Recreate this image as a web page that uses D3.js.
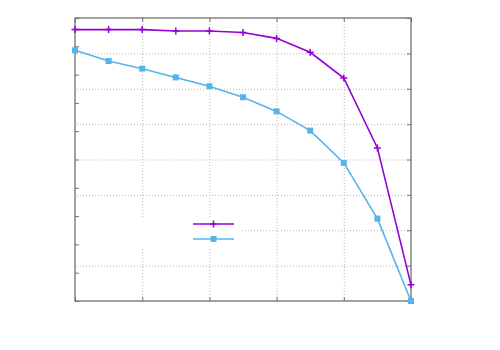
<!DOCTYPE html>
<html>
<head>
<meta charset="utf-8">
<script src="https://cdn.jsdelivr.net/npm/d3@7"></script>
<style>
body { margin: 0; background: #fff; }
.grid line { stroke: #b8b8b8; stroke-dasharray: 1,2; }
.ax path { display: none; }
.ax line { stroke: #707070; }
</style>
</head>
<body>
<div id="chart"></div>
<script>
// x positions of the samples
const steps = [0, 1, 2, 3, 4, 5, 6, 7, 8, 9, 10];
// the two series (left axis, 0..1)
const seriesA = [0.959, 0.959, 0.959, 0.954, 0.954, 0.949, 0.928, 0.879, 0.788, 0.541, 0.057];
const seriesB = [0.886, 0.848, 0.821, 0.790, 0.759, 0.720, 0.670, 0.602, 0.488, 0.291, 0.0];
const xTicks = [0, 2, 4, 6, 8, 10];
const yTicks = [0, 0.1, 0.2, 0.3, 0.4, 0.5, 0.6, 0.7, 0.8, 0.9, 1];
const y2Ticks = [0, 1, 2, 3, 4, 5, 6, 7, 8];

const width = 500, height = 350;
const plot = { left: 75, right: 411, top: 18, bottom: 301 };

const svg = d3.select('#chart').append('svg')
    .attr('width', width)
    .attr('height', height);

const x = d3.scaleLinear().domain([0, 10]).range([plot.left, plot.right]);
const y = d3.scaleLinear().domain([0, 1]).range([plot.bottom, plot.top]);
const y2 = d3.scaleLinear().domain([0, 8]).range([plot.bottom, plot.top]);

// grid: vertical from x ticks, horizontal from y2 ticks
svg.append('g')
    .attr('class', 'grid')
    .attr('transform', `translate(0, ${plot.bottom})`)
    .call(d3.axisBottom(x).tickValues(xTicks.slice(1, -1)).tickSize(-(plot.bottom - plot.top)).tickFormat(''))
    .select('.domain').remove();

svg.append('g')
    .attr('class', 'grid')
    .attr('transform', `translate(${plot.right}, 0)`)
    .call(d3.axisRight(y2).tickValues(y2Ticks.slice(1, -1)).tickSize(-(plot.right - plot.left)).tickFormat(''))
    .select('.domain').remove();

// key background hides the grid behind it
svg.append('rect')
    .attr('x', 77).attr('y', 217)
    .attr('width', 165).attr('height', 30)
    .attr('fill', '#fff');

// tick marks, pointing inward
svg.append('g').attr('class', 'ax')
    .attr('transform', `translate(${plot.left}, 0)`)
    .call(d3.axisLeft(y).tickValues(yTicks).tickSize(-4).tickFormat(''));
svg.append('g').attr('class', 'ax')
    .attr('transform', `translate(${plot.right}, 0)`)
    .call(d3.axisRight(y2).tickValues(y2Ticks).tickSize(-4).tickFormat(''));
svg.append('g').attr('class', 'ax')
    .attr('transform', `translate(0, ${plot.bottom})`)
    .call(d3.axisBottom(x).tickValues(xTicks).tickSize(-4).tickFormat(''));
svg.append('g').attr('class', 'ax')
    .attr('transform', `translate(0, ${plot.top})`)
    .call(d3.axisTop(x).tickValues(xTicks).tickSize(-4).tickFormat(''));

svg.append('rect')
    .attr('x', plot.left).attr('y', plot.top)
    .attr('width', plot.right - plot.left).attr('height', plot.bottom - plot.top)
    .attr('fill', 'none')
    .attr('stroke', '#707070')
    .attr('stroke-width', 1.3);

const series = [
    { values: seriesB, color: '#56b4e9', mark: 'square' },
    { values: seriesA, color: '#9400d3', mark: 'plus' }
];

const line = d3.line()
    .x((d, i) => x(steps[i]))
    .y(d => y(d));

let drawMark = (g, mark, color, cx, cy) => {
    if (mark === 'plus') {
        g.append('path')
            .attr('d', `M${cx - 3.5},${cy}H${cx + 3.5}M${cx},${cy - 3.5}V${cy + 3.5}`)
            .attr('stroke', color)
            .attr('stroke-width', 1.5);
    } else {
        g.append('rect')
            .attr('x', cx - 3).attr('y', cy - 3)
            .attr('width', 6).attr('height', 6)
            .attr('fill', color);
    }
};

for (const s of series) {
    svg.append('path')
        .attr('d', line(s.values))
        .attr('fill', 'none')
        .attr('stroke', s.color)
        .attr('stroke-width', 1.6);
    const g = svg.append('g');
    s.values.forEach((v, i) => drawMark(g, s.mark, s.color, x(steps[i]), y(v)));
}

// key samples
const key = svg.append('g');
const keyRows = [
    { color: '#9400d3', mark: 'plus', yy: 224 },
    { color: '#56b4e9', mark: 'square', yy: 239 }
];
for (const k of keyRows) {
    key.append('line')
        .attr('x1', 193).attr('x2', 234)
        .attr('y1', k.yy).attr('y2', k.yy)
        .attr('stroke', k.color)
        .attr('stroke-width', 1.6);
    drawMark(key, k.mark, k.color, 213.5, k.yy);
}
</script>
</body>
</html>
